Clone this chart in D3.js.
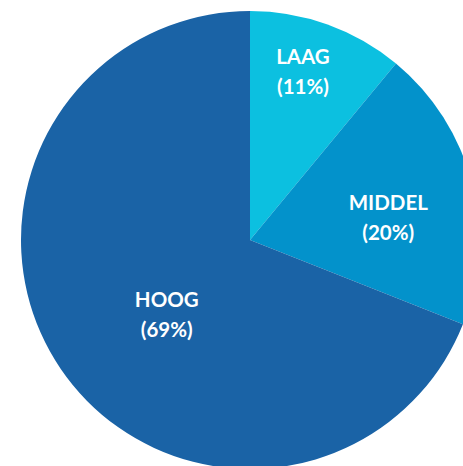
<!DOCTYPE html>
<html><head><meta charset="utf-8">
<script src="https://cdn.jsdelivr.net/npm/d3@7"></script>
<style>html,body{margin:0;padding:0;background:#fff;overflow:hidden}</style>
</head><body>
<svg id="c" width="463" height="466"></svg>
<script>
const categories = ["LAAG", "MIDDEL", "HOOG"];
const values = [11, 20, 69];
const labels = ["(11%)", "(20%)", "(69%)"];
const colors = ["#0cc0e0", "#0392cb", "#1a63a6"];
// label placement: [radius, angle in degrees clockwise from top]
const labelRadius = [176, 140, 112];
const labelAngle = [17.5, 81, 228];

const svg = d3.select("#c");
const cx = 250, cy = 240, R = 229;
const g = svg.append("g").attr("transform", `translate(${cx},${cy})`);
const pie = d3.pie().sort(null).value(d => d);
const arc = d3.arc().innerRadius(0).outerRadius(R);
const arcs = pie(values);
g.selectAll("path").data(arcs).join("path")
  .attr("d", arc).attr("fill", (d, i) => colors[i]);

const t = g.selectAll("text").data(arcs).join("text")
  .attr("text-anchor", "middle")
  .attr("fill", "#fff")
  .attr("font-family", "Lato, 'Open Sans', sans-serif")
  .attr("font-weight", "bold")
  .attr("font-size", 20.5)
  .attr("transform", (d, i) => {
    const a = labelAngle[i] * Math.PI / 180;
    return `translate(${labelRadius[i] * Math.sin(a)},${-labelRadius[i] * Math.cos(a)})`;
  });
t.append("tspan").attr("x", 0).attr("y", -8).text((d, i) => categories[i]);
t.append("tspan").attr("x", 0).attr("y", 22).text((d, i) => labels[i]);
</script>
</body></html>
